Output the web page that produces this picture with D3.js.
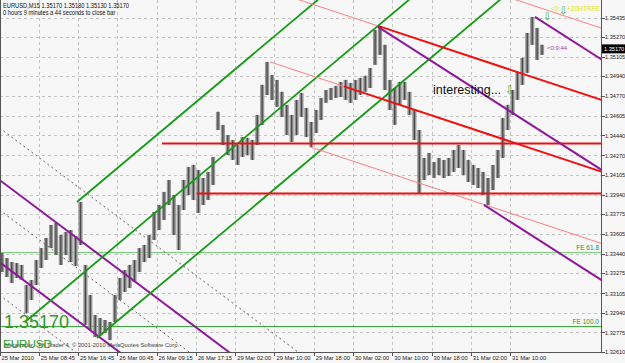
<!DOCTYPE html>
<html>
<head>
<meta charset="utf-8">
<script src="https://cdn.jsdelivr.net/npm/d3@7"></script>
<style>
  body { margin: 0; background: #f7f7f7; }
  svg { display: block; }
  text { font-family: "Liberation Sans", Arial, sans-serif; }
</style>
</head>
<body>
<svg id="draw"></svg>
<script>
// hourly high / low
const highs = [1.33446,1.33404,1.33370,1.33362,1.33345,1.33176,1.33218,1.33387,1.33488,1.33573,
  1.33683,1.33700,1.33598,1.33624,1.33640,1.33590,1.33877,1.33345,1.33091,1.32922,
  1.32897,1.32880,1.32863,1.33091,1.33235,1.33302,1.33345,1.33387,1.33488,1.33514,
  1.33598,1.33793,1.33852,1.33962,1.34063,1.33936,1.33852,1.34063,1.34173,1.34190,
  1.34147,1.34080,1.34131,1.34257,1.34638,1.34528,1.34443,1.34401,1.34359,1.34426,
  1.34418,1.34401,1.34612,1.34866,1.35060,1.34950,1.34908,1.34807,1.34697,1.34612,
  1.34739,1.34798,1.34671,1.34553,1.34654,1.34756,1.34823,1.34840,1.34857,1.34891,
  1.34908,1.34883,1.34908,1.34925,1.34942,1.35009,1.35330,1.35364,1.35204,1.34908,
  1.34840,1.34891,1.34891,1.34807,1.34654,1.34485,1.34249,1.34291,1.34215,1.34249,
  1.34232,1.34249,1.34316,1.34359,1.34316,1.34232,1.34190,1.34164,1.34131,1.34080,
  1.34190,1.34316,1.34587,1.34697,1.34823,1.34976,1.35094,1.35305,1.35440,1.35347,
  1.35204];
const lows = [1.33286,1.33243,1.33193,1.33235,1.33218,1.32939,1.33049,1.33176,1.33319,1.33387,
  1.33488,1.33429,1.33345,1.33429,1.33370,1.33336,1.33514,1.32838,1.32795,1.32736,
  1.32753,1.32770,1.32711,1.32863,1.33049,1.33117,1.33150,1.33201,1.33286,1.33370,
  1.33404,1.33556,1.33640,1.33725,1.33852,1.33598,1.33471,1.33809,1.33936,1.33894,
  1.33784,1.33852,1.33894,1.34021,1.34485,1.34359,1.34274,1.34232,1.34190,1.34257,
  1.34274,1.34232,1.34359,1.34528,1.34781,1.34739,1.34680,1.34595,1.34443,1.34384,
  1.34443,1.34595,1.34426,1.34342,1.34460,1.34570,1.34714,1.34739,1.34756,1.34764,
  1.34739,1.34714,1.34739,1.34781,1.34807,1.34840,1.35035,1.35119,1.34823,1.34654,
  1.34528,1.34697,1.34739,1.34612,1.34401,1.33953,1.34063,1.34105,1.34080,1.34105,
  1.34080,1.34097,1.34131,1.34164,1.34105,1.34046,1.34021,1.33995,1.33936,1.33852,
  1.33978,1.34080,1.34249,1.34485,1.34612,1.34739,1.34866,1.34967,1.35204,1.35077,
  1.35119];

const timeLabels = ["25 Mar 2010","25 Mar 08:45","25 Mar 16:45","26 Mar 00:45","26 Mar 09:15",
  "26 Mar 17:15","29 Mar 02:00","29 Mar 10:00","29 Mar 18:00","30 Mar 02:00","30 Mar 10:00",
  "30 Mar 18:00","31 Mar 02:00","31 Mar 10:00"];
const timeBars = [0,8,16,24,32,40,48,56,64,72,80,88,96,104];
const priceTicks = [1.35435,1.35270,1.35105,1.34940,1.34770,1.34605,1.34440,1.34270,1.34105,
  1.33940,1.33775,1.33605,1.33440,1.33275,1.33105,1.32940,1.32775,1.32610];

// objects: [bar, price]
const greenFork = [[5.19,1.32863],[15.78,1.33877],[19.86,1.32728]];
const purpleFork = [[77.09,1.35356],[98.68,1.33852],[109.06,1.35440]];
const redFork = [[55.09,1.35060],[63.24,1.34342],[77.09,1.35364]];
const purpleLines = [[[0,1.34063],[50,1.32508]], [[0,1.33370],[30,1.32436]]];
const dashedLines = [[[0,1.34502],[65,1.32479]], [[0,1.33809],[40,1.32567]], [[0,1.33091],[20,1.32469]]];
const redLevels = [[33.1,1.34376],[40.2,1.33949]];
const feLevels = [["FE 61.8",1.33455,"#7cc87c"],["FE 100.0",1.32829,"#3aaa3a"]];
const lastPrice = 1.35170;

const W = 625, H = 363, right = 601, bottom = 352;
const svg = d3.select("#draw").attr("width", W).attr("height", H);
svg.append("rect").attr("width", W).attr("height", H).attr("fill", "#f7f7f7");

const x = d3.scaleLinear().domain([0, 104]).range([-0.5, 510.1]);
const y = d3.scaleLinear().domain([1.32610, 1.35435]).range([352, 17.5]);

svg.append("clipPath").attr("id", "plot")
  .append("rect").attr("x", 0).attr("y", 0).attr("width", right).attr("height", bottom);
const g = svg.append("g").attr("clip-path", "url(#plot)");

// grid
g.selectAll(".hg").data(priceTicks).enter().append("line")
  .attr("x1", 0).attr("x2", right)
  .attr("y1", d => Math.round(y(d)) + 0.5).attr("y2", d => Math.round(y(d)) + 0.5)
  .attr("stroke", "#c4c4c4").attr("stroke-dasharray", "3,3");
g.selectAll(".vg").data(timeBars.slice(1)).enter().append("line")
  .attr("x1", d => Math.round(x(d)) + 0.5).attr("x2", d => Math.round(x(d)) + 0.5)
  .attr("y1", 0).attr("y2", bottom)
  .attr("stroke", "#c4c4c4").attr("stroke-dasharray", "3,3");

// fibo expansion levels
feLevels.forEach(f => {
  g.append("line").attr("x1", 0).attr("x2", right)
    .attr("y1", Math.round(y(f[1])) + 0.5).attr("y2", Math.round(y(f[1])) + 0.5)
    .attr("stroke", f[2]).attr("stroke-width", 1.2);
});

// candles
const bars = highs.map((h, i) => ({i: i, h: h, l: lows[i]}));
g.selectAll(".bar").data(bars).enter().append("rect")
  .attr("x", d => x(d.i + 0.5) - 2.1).attr("width", 4.2)
  .attr("y", d => y(d.h)).attr("height", d => y(d.l) - y(d.h))
  .attr("fill", "#999");
g.selectAll(".wick").data(bars).enter().append("line")
  .attr("x1", d => x(d.i + 0.5)).attr("x2", d => x(d.i + 0.5))
  .attr("y1", d => y(d.h)).attr("y2", d => y(d.l))
  .attr("stroke", "#4a4a4a").attr("stroke-width", 1.3);

const px = d => [x(d[0]), y(d[1])];
const seg = (a, b, col, w, dash) => g.append("line")
  .attr("x1", a[0]).attr("y1", a[1]).attr("x2", b[0]).attr("y2", b[1])
  .attr("stroke", col).attr("stroke-width", w).attr("stroke-dasharray", dash || null);

dashedLines.forEach(l => seg(px(l[0]), px(l[1]), "#666", 1, "2,3"));
purpleLines.forEach(l => seg(px(l[0]), px(l[1]), "#8e1a9a", 2));

function fork(piv) {
  const p = piv.map(px);
  const m = [(p[1][0] + p[2][0]) / 2, (p[1][1] + p[2][1]) / 2];
  const d = [m[0] - p[0][0], m[1] - p[0][1]];
  return {p: p, m: m, d: d};
}
const along = (a, d, t) => [a[0] + d[0] * t, a[1] + d[1] * t];

// green pitchfork
const gf = fork(greenFork);
gf.p.forEach(a => seg(a, along(a, gf.d, 40), "#179a17", 1.8));

// red pitchfork with salmon extension lines
const rf = fork(redFork);
const medY = xx => rf.p[0][1] + rf.d[1] / rf.d[0] * (xx - rf.p[0][0]);
const off = rf.p[2][1] - medY(rf.p[2][0]);
const topP = [rf.p[2][0], rf.p[2][1] + off];
seg(along(topP, rf.d, -40), along(topP, rf.d, 40), "#ff7f7f", 1);
seg(along(rf.p[2], rf.d, -40), rf.p[2], "#ff7f7f", 1);
seg(rf.p[0], rf.m, "#ff7f7f", 1);
seg(rf.p[1], along(rf.p[1], rf.d, 40), "#ff7f7f", 1);
seg(rf.m, along(rf.m, rf.d, 40), "#f01010", 2);
seg(rf.p[2], along(rf.p[2], rf.d, 40), "#f01010", 2);

redLevels.forEach(r => seg([x(r[0]), Math.round(y(r[1])) + 0.5], [right, Math.round(y(r[1])) + 0.5], "#e81010", 2));

// purple pitchfork
const pf = fork(purpleFork);
pf.p.forEach(a => seg(a, along(a, pf.d, 40), "#8e1a9a", 2));

// labels inside chart
feLevels.forEach(f => {
  g.append("text").attr("x", right - 2).attr("y", Math.round(y(f[1])) - 2)
    .attr("text-anchor", "end").attr("font-size", 6.5).attr("fill", "#2a9a2a").text(f[0]);
});
g.append("text").attr("x", 433).attr("y", 94).attr("font-size", 12.5).attr("fill", "#111").text("interesting...");
g.append("text").attr("x", 505).attr("y", 94).attr("font-size", 12)
  .style("font-family", "DejaVu Sans").attr("fill", "#3aaa3a").text("\u21e9");
g.append("text").attr("x", 543).attr("y", 20).attr("font-size", 10)
  .style("font-family", "DejaVu Sans").attr("fill", "#3aaa3a").text("\u21e9");
g.append("text").attr("x", 551).attr("y", 11).attr("font-size", 6.5).attr("fill", "#e6e600").text("<0:");
g.append("text").attr("x", 559).attr("y", 14).attr("font-size", 10)
  .style("font-family", "DejaVu Sans").attr("fill", "#3aaa3a").text("\u21e9");
g.append("text").attr("x", 567).attr("y", 11).attr("font-size", 6.5).attr("fill", "#e6e600").text("+20HTRFE");
g.append("text").attr("x", 547).attr("y", 50).attr("font-size", 6).attr("fill", "#a040b0").text("<0:9:44");

g.append("text").attr("x", 3).attr("y", 8.5).attr("font-size", 6.3).attr("fill", "#111")
  .attr("transform", "translate(3,0) scale(0.91,1) translate(-3,0)")
  .text("EURUSD,M15  1.35170 1.35180 1.35130 1.35170");
g.append("text").attr("x", 3).attr("y", 15).attr("font-size", 6.3).attr("fill", "#111")
  .attr("transform", "translate(3,0) scale(0.91,1) translate(-3,0)")
  .text("0 hours 9 minutes a 44 seconds to close bar");

g.append("text").attr("x", 5).attr("y", 347).attr("font-size", 5.8).attr("fill", "#444")
  .text("Metatrader - FX Trader 4, \u00a9 2001-2010 MetaQuotes Software Corp.");
g.append("text").attr("x", 4).attr("y", 328).attr("font-size", 18).attr("fill", "#2c9a2c").text("1.35170");
g.append("text").attr("x", 3).attr("y", 348).attr("font-size", 11.6).attr("fill", "#2c9a2c").text("EURUSD");

// frame
svg.append("line").attr("x1", 0.5).attr("x2", 0.5).attr("y1", 0).attr("y2", bottom).attr("stroke", "#555");
svg.append("line").attr("x1", right + 0.5).attr("x2", right + 0.5).attr("y1", 0).attr("y2", bottom + 1).attr("stroke", "#555");
svg.append("line").attr("x1", 0).attr("x2", right + 1).attr("y1", bottom + 0.5).attr("y2", bottom + 0.5).attr("stroke", "#555");

// price axis
const ya = svg.append("g");
ya.selectAll("line").data(priceTicks).enter().append("line")
  .attr("x1", right).attr("x2", right + 4)
  .attr("y1", d => Math.round(y(d)) + 0.5).attr("y2", d => Math.round(y(d)) + 0.5)
  .attr("stroke", "#555");
ya.selectAll("text").data(priceTicks).enter().append("text")
  .attr("x", 605).attr("y", d => y(d) + 2.2).attr("font-size", 5.6).attr("fill", "#222")
  .text(d => d.toFixed(5));
svg.append("rect").attr("x", 602).attr("y", y(lastPrice) - 4.5).attr("width", 23).attr("height", 9).attr("fill", "#000");
svg.append("text").attr("x", 604).attr("y", y(lastPrice) + 2.2).attr("font-size", 5.6).attr("fill", "#fff")
  .text(lastPrice.toFixed(5));

// time axis
const xa = svg.append("g");
xa.selectAll("line").data(timeBars).enter().append("line")
  .attr("x1", d => Math.round(x(d)) + 0.5).attr("x2", d => Math.round(x(d)) + 0.5)
  .attr("y1", bottom).attr("y2", bottom + 4).attr("stroke", "#555");
xa.selectAll("text").data(timeLabels).enter().append("text")
  .attr("x", (d, i) => x(timeBars[i]) + 2).attr("y", 359.5).attr("font-size", 5.8).attr("fill", "#222")
  .text(d => d);
</script>
